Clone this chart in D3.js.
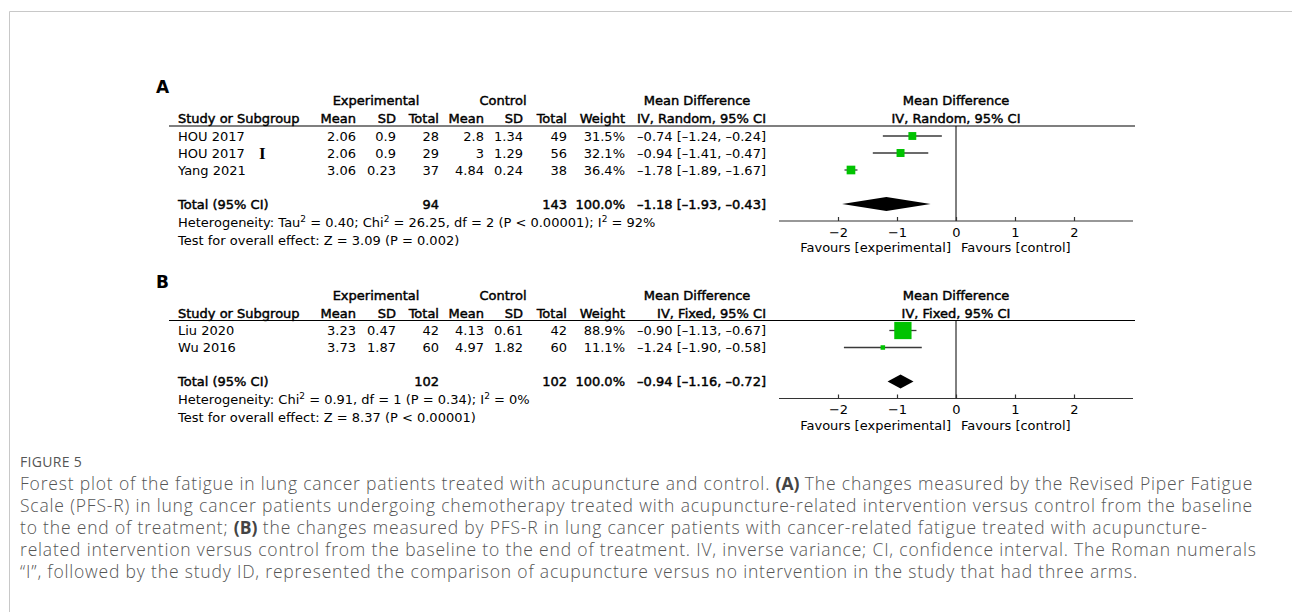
<!DOCTYPE html>
<html>
<head>
<meta charset="utf-8">
<script src="https://cdn.jsdelivr.net/npm/d3@7"></script>
<style>
  html, body { margin: 0; padding: 0; background: #fff; }
  svg { display: block; }
  .tbl { font-family: "DejaVu Sans", sans-serif; font-size: 13px; fill: #000; }
  .bold { stroke: #000; stroke-width: 0.45px; }
  .cap { font-family: "Open Sans", sans-serif; fill: #555; }
</style>
</head>
<body>
<svg id="chart" width="1292" height="612"></svg>
<script>
// ---- Panel A: PFS-R change, chemotherapy patients (random effects) ----
const studiesA = ["HOU 2017", "HOU 2017", "Yang 2021"];
const armA = ["", "I", ""];
const expMeanA = ["2.06", "2.06", "3.06"];
const expSDA = ["0.9", "0.9", "0.23"];
const expNA = [28, 29, 37];
const ctlMeanA = ["2.8", "3", "4.84"];
const ctlSDA = ["1.34", "1.29", "0.24"];
const ctlNA = [49, 56, 38];
const weightA = [31.5, 32.1, 36.4];
const mdA = [-0.74, -0.94, -1.78];
const loA = [-1.24, -1.41, -1.89];
const hiA = [-0.24, -0.47, -1.67];
const totalNA = [94, 143];
const totalA = [-1.18, -1.93, -0.43];
const hetA = [["Heterogeneity: Tau", ""], ["2", "sup"], [" = 0.40; Chi", ""], ["2", "sup"], [" = 26.25, df = 2 (P < 0.00001); I", ""], ["2", "sup"], [" = 92%", ""]];
const testA = "Test for overall effect: Z = 3.09 (P = 0.002)";

// ---- Panel B: PFS-R change, cancer-related fatigue (fixed effect) ----
const studiesB = ["Liu 2020", "Wu 2016"];
const armB = ["", ""];
const expMeanB = ["3.23", "3.73"];
const expSDB = ["0.47", "1.87"];
const expNB = [42, 60];
const ctlMeanB = ["4.13", "4.97"];
const ctlSDB = ["0.61", "1.82"];
const ctlNB = [42, 60];
const weightB = [88.9, 11.1];
const mdB = [-0.90, -1.24];
const loB = [-1.13, -1.90];
const hiB = [-0.67, -0.58];
const totalNB = [102, 102];
const totalB = [-0.94, -1.16, -0.72];
const hetB = [["Heterogeneity: Chi", ""], ["2", "sup"], [" = 0.91, df = 1 (P = 0.34); I", ""], ["2", "sup"], [" = 0%", ""]];
const testB = "Test for overall effect: Z = 8.37 (P < 0.00001)";

const axisTicks = [-2, -1, 0, 1, 2];
const axisDomain = [-3, 3];

const captionTitle = "FIGURE 5";
const captionLines = [
  [["Forest plot of the fatigue in lung cancer patients treated with acupuncture and control. ", 0], ["(A)", 1], [" The changes measured by the Revised Piper Fatigue", 0]],
  [["Scale (PFS-R) in lung cancer patients undergoing chemotherapy treated with acupuncture-related intervention versus control from the baseline", 0]],
  [["to the end of treatment; ", 0], ["(B)", 1], [" the changes measured by PFS-R in lung cancer patients with cancer-related fatigue treated with acupuncture-", 0]],
  [["related intervention versus control from the baseline to the end of treatment. IV, inverse variance; CI, confidence interval. The Roman numerals", 0]],
  [["\u201CI\u201D, followed by the study ID, represented the comparison of acupuncture versus no intervention in the study that had three arms.", 0]]
];

const svg = d3.select("#chart");

// page frame
svg.append("line").attr("x1", 9.5).attr("x2", 1292).attr("y1", 11.5).attr("y2", 11.5)
  .attr("stroke", "#c8c8c8").attr("stroke-width", 1);
svg.append("line").attr("x1", 9.5).attr("x2", 9.5).attr("y1", 11.5).attr("y2", 612)
  .attr("stroke", "#c8c8c8").attr("stroke-width", 1);

const x = d3.scaleLinear().domain(axisDomain).range([779, 1133]);
// box side grows with study weight
const boxSize = d3.scaleLinear().domain([0, 100]).range([2.7, 19.1]);
const fmt = v => (v < 0 ? "\u2013" : "") + Math.abs(v).toFixed(2);
const green = "#00c300";

// right-aligned columns of the data table
const cols = {
  eMean: 356, eSD: 396, eN: 439, cMean: 484, cSD: 523, cN: 567, w: 625, md: 766
};

function panel(p) {
  const g = svg.append("g");
  const top = p.lineY;
  const n = p.studies.length;
  const rowY = i => top + 10 + 17 * i;
  const totalY = rowY(n + 1);
  const axisY = totalY + 17;
  const tb = y => y + 4.7; // baseline for a row centred at y

  g.append("text").attr("x", 156).attr("y", top - 33)
    .attr("font-family", "DejaVu Sans, sans-serif").attr("font-weight", "bold")
    .attr("font-size", 17).text(p.label);

  const t = (xx, y, s, anchor, bold) => g.append("text").attr("class", "tbl" + (bold ? " bold" : ""))
    .attr("x", xx).attr("y", y).attr("text-anchor", anchor || "start").text(s);

  const h1 = tb(top - 25.3), h2 = tb(top - 7.7);
  t(376, h1, "Experimental", "middle", true);
  t(503, h1, "Control", "middle", true);
  t(697, h1, "Mean Difference", "middle", true);
  t(x(0), h1, "Mean Difference", "middle", true);
  t(178, h2, "Study or Subgroup", "start", true);
  t(cols.eMean, h2, "Mean", "end", true);
  t(cols.eSD, h2, "SD", "end", true);
  t(cols.eN, h2, "Total", "end", true);
  t(cols.cMean, h2, "Mean", "end", true);
  t(cols.cSD, h2, "SD", "end", true);
  t(cols.cN, h2, "Total", "end", true);
  t(cols.w, h2, "Weight", "end", true);
  t(cols.md, h2, p.method, "end", true);
  t(x(0), h2, p.method, "middle", true);

  g.append("line").attr("x1", 169).attr("x2", 1135).attr("y1", top).attr("y2", top)
    .attr("stroke", "#000").attr("stroke-width", 1.2);

  p.studies.forEach((s, i) => {
    const y = tb(rowY(i));
    t(178, y, s);
    if (p.arm[i]) {
      g.append("text").attr("x", 259).attr("y", y + 1)
        .attr("font-family", "Liberation Serif, serif").attr("font-weight", "bold")
        .attr("font-size", 17).text(p.arm[i]);
    }
    t(cols.eMean, y, p.eMean[i], "end");
    t(cols.eSD, y, p.eSD[i], "end");
    t(cols.eN, y, p.eN[i], "end");
    t(cols.cMean, y, p.cMean[i], "end");
    t(cols.cSD, y, p.cSD[i], "end");
    t(cols.cN, y, p.cN[i], "end");
    t(cols.w, y, p.weight[i].toFixed(1) + "%", "end");
    t(cols.md, y, `${fmt(p.md[i])} [${fmt(p.lo[i])}, ${fmt(p.hi[i])}]`, "end");
  });

  const ty = tb(totalY);
  t(178, ty, "Total (95% CI)", "start", true);
  t(cols.eN, ty, p.totalN[0], "end", true);
  t(cols.cN, ty, p.totalN[1], "end", true);
  t(cols.w, ty, "100.0%", "end", true);
  t(cols.md, ty, `${fmt(p.total[0])} [${fmt(p.total[1])}, ${fmt(p.total[2])}]`, "end", true);

  const het = g.append("text").attr("class", "tbl").attr("x", 178).attr("y", tb(totalY + 18));
  p.het.forEach(([s, k]) => {
    const sp = het.append("tspan").text(s);
    if (k === "sup") sp.attr("font-size", 9).attr("dy", -5);
    else sp.attr("dy", het.node().childNodes.length > 1 ? 5 : 0);
  });
  t(178, tb(totalY + 36), p.test);

  // forest plot
  g.append("line").attr("x1", x(0)).attr("x2", x(0)).attr("y1", top).attr("y2", axisY)
    .attr("stroke", "#000").attr("stroke-width", 1);

  p.studies.forEach((s, i) => {
    const y = rowY(i);
    g.append("line").attr("x1", x(p.lo[i])).attr("x2", x(p.hi[i])).attr("y1", y).attr("y2", y)
      .attr("stroke", "#3a3a3a").attr("stroke-width", 1.3);
    const b = boxSize(p.weight[i]);
    g.append("rect").attr("x", x(p.md[i]) - b / 2).attr("y", y - b / 2)
      .attr("width", b).attr("height", b).attr("fill", green);
  });

  const dh = 7;
  g.append("path")
    .attr("d", `M${x(p.total[1])},${totalY} L${x(p.total[0])},${totalY - dh} L${x(p.total[2])},${totalY} L${x(p.total[0])},${totalY + dh} Z`)
    .attr("fill", "#000");

  const ax = g.append("g").attr("transform", `translate(0,${axisY})`)
    .call(d3.axisTop(x).tickValues(axisTicks).tickSize(4).tickFormat(d => (d < 0 ? "\u2212" : "") + Math.abs(d)));
  ax.select(".domain").attr("stroke", "#333").attr("stroke-width", 1.2).attr("d", `M${x.range()[0]},0H${x.range()[1]}`);
  ax.selectAll(".tick line").attr("stroke", "#333").attr("stroke-width", 1.2);
  ax.selectAll(".tick text").attr("y", 15.5).attr("dy", 0)
    .attr("font-family", "DejaVu Sans, sans-serif").attr("font-size", 13).attr("fill", "#000");

  t(x(0) - 5, axisY + 31, "Favours [experimental]", "end");
  t(x(0) + 5, axisY + 31, "Favours [control]", "start");
}

panel({
  label: "A", lineY: 126, method: "IV, Random, 95% CI",
  studies: studiesA, arm: armA, eMean: expMeanA, eSD: expSDA, eN: expNA,
  cMean: ctlMeanA, cSD: ctlSDA, cN: ctlNA, weight: weightA,
  md: mdA, lo: loA, hi: hiA, totalN: totalNA, total: totalA, het: hetA, test: testA
});
panel({
  label: "B", lineY: 320.5, method: "IV, Fixed, 95% CI",
  studies: studiesB, arm: armB, eMean: expMeanB, eSD: expSDB, eN: expNB,
  cMean: ctlMeanB, cSD: ctlSDB, cN: ctlNB, weight: weightB,
  md: mdB, lo: loB, hi: hiB, totalN: totalNB, total: totalB, het: hetB, test: testB
});

// caption
svg.append("text").attr("class", "cap").attr("x", 20).attr("y", 467)
  .attr("font-size", 14).attr("letter-spacing", 0.3).attr("fill", "#666").text(captionTitle);
captionLines.forEach((parts, i) => {
  const tx = svg.append("text").attr("class", "cap").attr("x", 20).attr("y", 490 + 22 * i)
    .attr("font-size", 17.5).attr("font-weight", 300).attr("letter-spacing", 0.82);
  parts.forEach(([s, b]) => {
    const sp = tx.append("tspan").text(s);
    if (b) sp.attr("font-weight", "bold").attr("fill", "#444").attr("letter-spacing", 0);
  });
});
</script>
</body>
</html>
